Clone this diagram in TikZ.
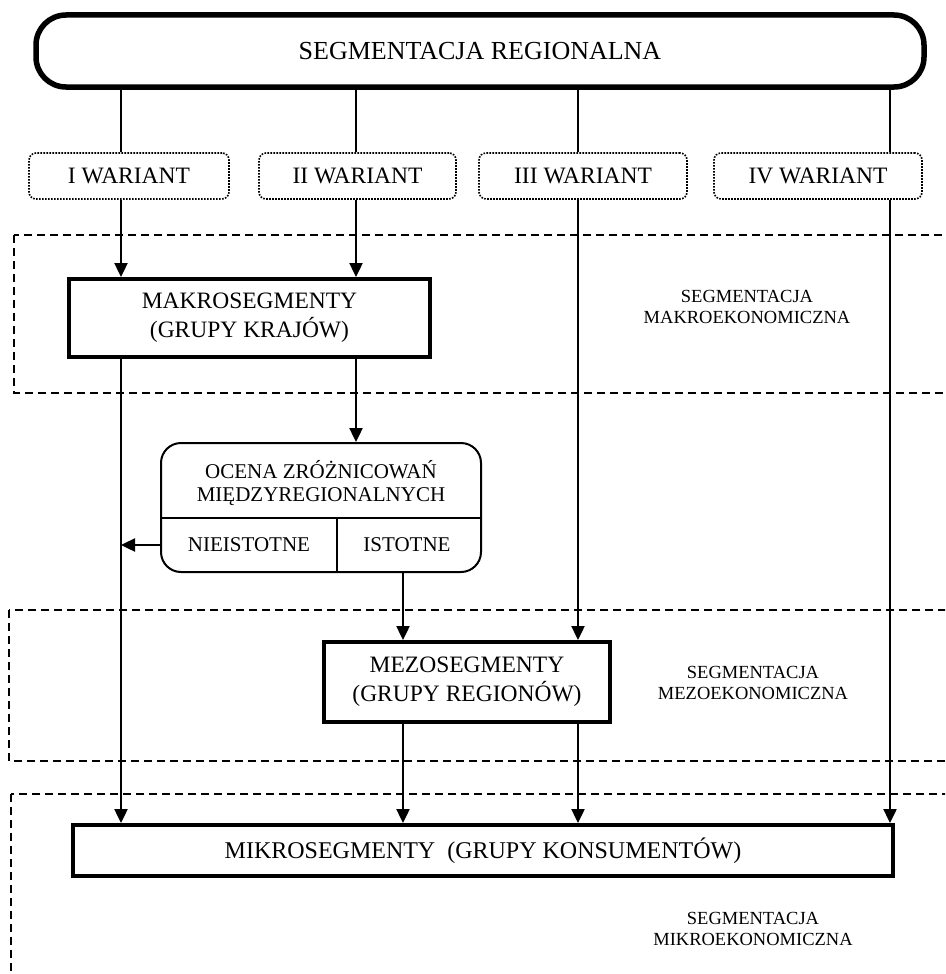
\documentclass[tikz,border=0pt]{standalone}
\usepackage{fontspec}
\setmainfont{Liberation Serif}
\usetikzlibrary{arrows.meta}

\begin{document}
\begin{tikzpicture}
           [x=1pt,y=-1pt,>={Triangle[length=14pt,width=13pt]},
            conn/.style={line width=2.4pt},
            zone/.style={line width=2.4pt,dash pattern=on 8pt off 5pt},
            mainbox/.style={draw,line width=4pt,inner sep=0pt,align=center,
              font=\fontsize{23.5}{29}\selectfont},
            variant/.style={draw,line width=1.6pt,dash pattern=on 1.6pt off 1.4pt,
              rounded corners=7pt,minimum width=200pt,minimum height=46pt,inner sep=0pt,
              font=\fontsize{23.5}{28}\selectfont},
            cell/.style={font=\fontsize{21}{23}\selectfont,align=center},
            zonelabel/.style={align=center,font=\fontsize{18.5}{21}\selectfont}]
           \useasboundingbox (0,0) rectangle (945,974);
           \clip (0,0) rectangle (945,974);

           \draw[zone] (14,235) rectangle (970,393);
           \draw[zone] (9,610) rectangle (970,761);
           \draw[zone] (11,794) rectangle (970,1000);

           \node[draw,line width=5.5pt,rounded corners=30pt,minimum width=888pt,
             minimum height=72pt,font=\fontsize{26}{30}\selectfont]
             (regional) at (480,51) {SEGMENTACJA REGIONALNA};

           \node[variant] (varI) at (129,176) {I WARIANT};
           \node[variant,minimum width=197pt] (varII) at (357.5,176) {II WARIANT};
           \node[variant,minimum width=208pt] (varIII) at (583,176) {III WARIANT};
           \node[variant,minimum width=208pt] (varIV) at (818,176) {IV WARIANT};

           \node[mainbox,minimum width=361pt,minimum height=78pt]
             (makro) at (249.5,318) {MAKROSEGMENTY\\(GRUPY KRAJÓW)};
           \node[zonelabel] (makrolabel) at (747,307) {SEGMENTACJA\\MAKROEKONOMICZNA};

           \node[draw,line width=2pt,rounded corners=20pt,minimum width=320pt,
             minimum height=129pt,inner sep=0pt] (ocena) at (321,507.5) {};
           \node[cell] (ocenatxt) at (321,483.5) {OCENA ZRÓŻNICOWAŃ\\MIĘDZYREGIONALNYCH};
           \coordinate (split) at (337,518);
           \draw[line width=2pt] (ocena.west |- split) -- (ocena.east |- split);
           \draw[line width=2pt] (split) -- (split |- ocena.south);
           \node[cell] (nieistotne) at (249,545) {NIEISTOTNE};
           \node[cell] (istotne) at (407,545) {ISTOTNE};

           \node[mainbox,minimum width=286pt,minimum height=80pt]
             (mezo) at (467,682) {MEZOSEGMENTY\\(GRUPY REGIONÓW)};
           \node[zonelabel] (mezolabel) at (753,683) {SEGMENTACJA\\MEZOEKONOMICZNA};

           \node[mainbox,minimum width=820pt,minimum height=51pt,font=\fontsize{24}{28}\selectfont]
             (mikro) at (483,850.5) {MIKROSEGMENTY\ \ (GRUPY KONSUMENTÓW)};
           \node[zonelabel] (mikrolabel) at (753,929) {SEGMENTACJA\\MIKROEKONOMICZNA};

           \coordinate (xI) at (121,0);
           \coordinate (xII) at (356,0);
           \coordinate (xIst) at (403,0);
           \coordinate (xIII) at (578,0);
           \coordinate (xIV) at (890,0);

           \draw[conn] (regional.south -| xI) -- (varI.north -| xI);
           \draw[conn,->] (varI.south -| xI) -- (makro.north -| xI);
           \draw[conn,->] (makro.south -| xI) -- (mikro.north -| xI);

           \draw[conn] (regional.south -| xII) -- (varII.north -| xII);
           \draw[conn,->] (varII.south -| xII) -- (makro.north -| xII);
           \draw[conn,->] (makro.south -| xII) -- (ocena.north -| xII);

           \draw[conn,->] (ocena.west |- nieistotne) -- (xI |- nieistotne);
           \draw[conn,->] (ocena.south -| xIst) -- (mezo.north -| xIst);
           \draw[conn,->] (mezo.south -| xIst) -- (mikro.north -| xIst);

           \draw[conn] (regional.south -| xIII) -- (varIII.north -| xIII);
           \draw[conn,->] (varIII.south -| xIII) -- (mezo.north -| xIII);
           \draw[conn,->] (mezo.south -| xIII) -- (mikro.north -| xIII);

           \draw[conn] (regional.south -| xIV) -- (varIV.north -| xIV);
           \draw[conn,->] (varIV.south -| xIV) -- (mikro.north -| xIV);
         \end{tikzpicture}
\end{document}
